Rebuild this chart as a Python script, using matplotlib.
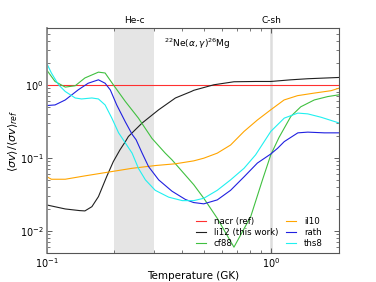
import matplotlib
matplotlib.use("Agg")
import numpy as np
from matplotlib import pyplot as plt
from matplotlib.ticker import NullFormatter

# Ratio <sigma v>/<sigma v>_ref, T in GK
nacr_T = [0.1, 2.0]
nacr_r = [1.0, 1.0]

li12_T = [0.100, 0.121, 0.140, 0.148, 0.159, 0.170, 0.185, 0.198, 0.212, 0.224,
          0.231, 0.266, 0.315, 0.374, 0.44, 0.451, 0.554, 0.681, 0.85, 0.993,
          1.22, 1.45, 2.0]
li12_r = [0.0227, 0.020, 0.0190, 0.0188, 0.0215, 0.0295, 0.0555, 0.089, 0.129, 0.167,
          0.196, 0.30, 0.455, 0.66, 0.81, 0.84, 1.0, 1.10, 1.11, 1.11,
          1.17, 1.21, 1.26]

cf88_T = [0.100, 0.109, 0.121, 0.134, 0.148, 0.170, 0.182, 0.198, 0.224, 0.256,
          0.294, 0.337, 0.361, 0.451, 0.50, 0.574, 0.681, 0.809, 0.912, 0.993,
          1.08, 1.22, 1.35, 1.55, 1.78, 2.0]
cf88_r = [1.6, 1.11, 0.93, 0.97, 1.24, 1.49, 1.45, 1.0, 0.59, 0.35,
          0.185, 0.116, 0.094, 0.043, 0.028, 0.0149, 0.006, 0.0158, 0.050, 0.11,
          0.19, 0.37, 0.50, 0.62, 0.69, 0.73]

il10_T = [0.100, 0.105, 0.121, 0.148, 0.195, 0.240, 0.304, 0.374, 0.451, 0.50,
          0.574, 0.658, 0.755, 0.866, 0.993, 1.138, 1.306, 1.55, 1.84, 2.0]
il10_r = [0.0555, 0.051, 0.051, 0.0567, 0.065, 0.072, 0.0785, 0.083, 0.091, 0.099,
          0.116, 0.15, 0.23, 0.33, 0.455, 0.62, 0.71, 0.77, 0.83, 0.90]

rath_T = [0.100, 0.109, 0.121, 0.138, 0.153, 0.170, 0.182, 0.192, 0.205, 0.224,
          0.240, 0.250, 0.266, 0.284, 0.315, 0.361, 0.414, 0.45, 0.50, 0.574,
          0.658, 0.755, 0.866, 0.993, 1.064, 1.14, 1.31, 1.45, 1.72, 2.0]
rath_r = [0.52, 0.53, 0.62, 0.85, 1.05, 1.17, 1.05, 0.85, 0.53, 0.31,
          0.21, 0.177, 0.116, 0.076, 0.050, 0.035, 0.027, 0.0245, 0.0235, 0.0266,
          0.036, 0.055, 0.085, 0.113, 0.135, 0.167, 0.22, 0.225, 0.22, 0.22]

ths8_T = [0.100, 0.105, 0.113, 0.121, 0.134, 0.143, 0.159, 0.170, 0.182, 0.195,
          0.209, 0.224, 0.240, 0.256, 0.275, 0.304, 0.349, 0.401, 0.451, 0.500,
          0.574, 0.658, 0.755, 0.85, 0.993, 1.14, 1.31, 1.45, 1.66, 2.0]
ths8_r = [1.98, 1.45, 1.0, 0.81, 0.66, 0.64, 0.66, 0.64, 0.53, 0.35,
          0.22, 0.16, 0.116, 0.072, 0.050, 0.036, 0.029, 0.026, 0.026, 0.028,
          0.036, 0.050, 0.072, 0.11, 0.23, 0.35, 0.41, 0.40, 0.36, 0.30]

fig = plt.figure(figsize=(3.76, 2.82), dpi=100)
ax = fig.add_axes([0.124, 0.103, 0.778, 0.798])

# burning regimes
ax.axvspan(0.2, 0.3, color="#e5e5e5", lw=0, zorder=0)
ax.axvline(1.0, color="#dddddd", lw=1.8, zorder=0)
ax.text(np.sqrt(0.2 * 0.3), 1.015, "He-c", transform=ax.get_xaxis_transform(),
        ha="center", va="bottom", fontsize=6.5)
ax.text(1.0, 1.015, "C-sh", transform=ax.get_xaxis_transform(),
        ha="center", va="bottom", fontsize=6.5)

lw = 0.8
ax.plot(nacr_T, nacr_r, color="#ff3030", lw=lw, label="nacr (ref)")
ax.plot(li12_T, li12_r, color="#202020", lw=lw, label="li12 (this work)")
ax.plot(cf88_T, cf88_r, color="#40c040", lw=lw, label="cf88")
ax.plot(il10_T, il10_r, color="#ffa500", lw=lw, label="il10")
ax.plot(rath_T, rath_r, color="#2020e0", lw=lw, label="rath")
ax.plot(ths8_T, ths8_r, color="#20f0f0", lw=lw, label="ths8")

ax.set_xscale("log")
ax.set_yscale("log")
ax.set_xlim(0.1, 2.0)
ax.set_ylim(0.005, 6)
ax.xaxis.set_minor_formatter(NullFormatter())
ax.yaxis.set_minor_formatter(NullFormatter())
ax.tick_params(which="both", direction="in", top=True, right=True, labelsize=7,
               color="#444444", pad=2)
ax.tick_params(which="major", length=3.5, width=0.6)
ax.tick_params(which="minor", length=2, width=0.5)
for s in ax.spines.values():
    s.set_linewidth(0.8)
    s.set_color("#555555")
ax.spines["left"].set_linewidth(1.3)
ax.spines["left"].set_color("#888888")

ax.text(0.514, 0.93, r"$^{22}$Ne$(\alpha,\gamma)^{26}$Mg", transform=ax.transAxes,
        ha="center", va="center", fontsize=6.5)

ax.set_xlabel("Temperature (GK)", fontsize=7.5, labelpad=1)
ax.set_ylabel(r"$\langle\sigma v\rangle/\langle\sigma v\rangle_{ref}$", fontsize=8, labelpad=0)

ax.legend(loc="lower right", bbox_to_anchor=(0.95, 0.015), ncol=2, frameon=False,
          fontsize=6.2, handlelength=1.2, handletextpad=0.9, columnspacing=0.9,
          labelspacing=0.2, borderaxespad=0, borderpad=0.2)

fig.savefig("out.png", dpi=100)
